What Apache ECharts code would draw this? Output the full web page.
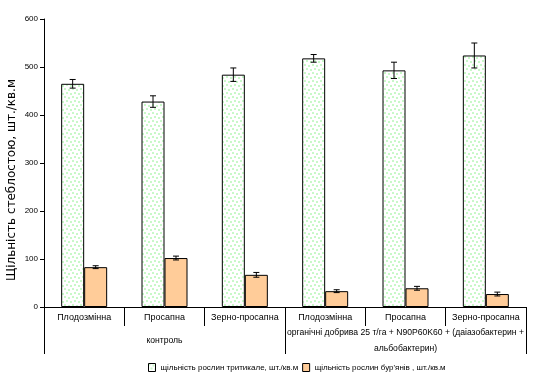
<!DOCTYPE html>
<html><head><meta charset="utf-8">
<script src="https://cdn.jsdelivr.net/npm/echarts@6/dist/echarts.min.js"></script>
<style>html,body{margin:0;padding:0;background:#fff}#c{width:534px;height:386px}</style>
</head><body><div id="c"></div>
<script>
var categories = ['Плодозмінна','Просапна','Зерно-просапна','Плодозмінна','Просапна','Зерно-просапна'];
var groups = ['контроль','органічні добрива 25 т/га + N90P60K60 + (даіазобактерин +\nальбобактерин)'];
var seriesNames = ['щільність рослин тритикале, шт./кв.м', "щільність рослин бур'янів , шт./кв.м"];
var triticale = [465, 428, 484, 518, 493, 524];
var triticaleErr = [9, 12, 14, 8, 17, 26];
var weeds = [83, 102, 67, 33, 39, 27];
var weedsErr = [3, 4, 5, 3, 4, 4];
var yTicks = [0, 100, 200, 300, 400, 500, 600];

var cv = document.createElement('canvas');
cv.width = 8; cv.height = 8;
var ctx = cv.getContext('2d');
ctx.fillStyle = '#ffffff'; ctx.fillRect(0,0,8,8);
ctx.fillStyle = '#c8f8c8';
ctx.fillRect(0,0,2,2); ctx.fillRect(4,1,2,2); ctx.fillRect(2,4,2,2); ctx.fillRect(6,5,2,2);
var pattern = {image: cv, repeat: 'repeat'};

function errData(vals, errs){
  return vals.map(function(v,i){ return [i, v - errs[i], v + errs[i]]; });
}
function errRender(offset){
  return function(params, api){
    var i = api.value(0);
    var lo = api.coord([i, api.value(1)]);
    var hi = api.coord([i, api.value(2)]);
    var x = lo[0] + offset;
    var w = 3;
    var st = {stroke:'#000', lineWidth:1};
    return {type:'group', children:[
      {type:'line', shape:{x1:x,y1:lo[1],x2:x,y2:hi[1]}, style:st},
      {type:'line', shape:{x1:x-w,y1:lo[1],x2:x+w,y2:lo[1]}, style:st},
      {type:'line', shape:{x1:x-w,y1:hi[1],x2:x+w,y2:hi[1]}, style:st}
    ]};
  };
}

var chart = echarts.init(document.getElementById('c'));
chart.setOption({
  animation:false,
  textStyle:{fontFamily:'Arial, "Liberation Sans", sans-serif', color:'#000'},
  grid:{left:44, right:8, top:19, bottom:79, containLabel:false, outerBoundsMode:'none'},
  legend:{
    bottom:9, left:143, icon:'rect', itemWidth:7, itemHeight:8, itemGap:4,
    textStyle:{fontSize:8, color:'#000', fontFamily:'Arial, "Liberation Sans", sans-serif'},
    data:[
      {name:seriesNames[0], itemStyle:{color:pattern, borderColor:'#000', borderWidth:1}},
      {name:seriesNames[1], itemStyle:{color:'#ffcc99', borderColor:'#000', borderWidth:1}}
    ]
  },
  xAxis:[
    {type:'category', data:categories, position:'bottom',
     axisLine:{lineStyle:{color:'#000', width:1}},
     axisTick:{show:true, length:19, lineStyle:{color:'#000'}},
     axisLabel:{fontSize:9, color:'#000', margin:6, interval:0}},
    {type:'category', data:groups, position:'bottom',
     axisLine:{show:false},
     axisTick:{show:true, length:47, lineStyle:{color:'#000'}},
     axisLabel:{fontSize:8.6, color:'#000', margin:34, interval:0, verticalAlign:'middle', lineHeight:16, align:'center'}}
  ],
  yAxis:{type:'value', min:0, max:600, interval:100,
    name:'Щільність стеблостою, шт./кв.м', nameLocation:'middle', nameGap:26, nameRotate:90, nameMoveOverlap:false,
    nameTextStyle:{fontSize:12, color:'#000', fontFamily:'"DejaVu Sans", sans-serif', padding:[0,34,0,0]},
    axisLine:{show:true, lineStyle:{color:'#000'}},
    axisTick:{show:true, length:4, lineStyle:{color:'#000'}},
    axisLabel:{fontSize:8, color:'#000', margin:6, formatter:function(v){return yTicks.indexOf(v)>=0?String(v):'';}},
    splitLine:{show:false}},
  series:[
    {name:seriesNames[0], type:'bar', data:triticale, barWidth:23, barGap:'0%',
     itemStyle:{color:pattern, borderColor:'#000', borderWidth:1}},
    {name:seriesNames[1], type:'bar', data:weeds, barWidth:23, barGap:'0%',
     itemStyle:{color:'#ffcc99', borderColor:'#000', borderWidth:1}},
    {type:'custom', renderItem:errRender(-11.5), data:errData(triticale, triticaleErr), z:10, silent:true, encode:{x:0,y:[1,2]}},
    {type:'custom', renderItem:errRender(11.5), data:errData(weeds, weedsErr), z:10, silent:true, encode:{x:0,y:[1,2]}}
  ]
});
</script></body></html>
